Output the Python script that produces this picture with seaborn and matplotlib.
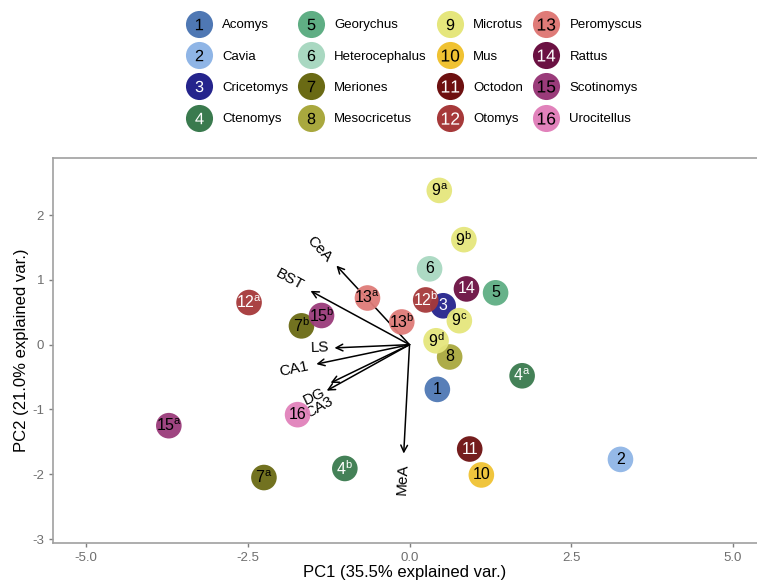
import numpy as np
import pandas as pd
import seaborn as sns
import matplotlib
matplotlib.use("Agg")
import matplotlib.pyplot as plt
from matplotlib.lines import Line2D
from matplotlib.legend_handler import HandlerTuple

# genus legend
genus_names = ["Acomys", "Cavia", "Cricetomys", "Ctenomys", "Georychus", "Heterocephalus",
               "Meriones", "Mesocricetus", "Microtus", "Mus", "Octodon", "Otomys",
               "Peromyscus", "Rattus", "Scotinomys", "Urocitellus"]
genus_colors = ["#4f78b4", "#8fb5e6", "#25248c", "#3a7a4e", "#5fae84", "#a9d8c1",
                "#6a6a14", "#a9a83e", "#e5e67c", "#f0c232", "#6d1010", "#a6393a",
                "#df7b78", "#6b1142", "#9a3b7a", "#e182bb"]
genus_textcol = ["black", "black", "white", "white", "black", "black", "black", "black",
                 "black", "black", "white", "white", "black", "white", "black", "black"]

# PCA scores (one per sample)
pt_genus = [1, 2, 3, 4, 4, 5, 6, 7, 7, 8, 9, 9, 9, 9, 10, 11, 12, 12, 13, 13, 14, 15, 15, 16]
pt_sup = ["", "", "", "a", "b", "", "", "a", "b", "", "a", "b", "c", "d", "", "", "a", "b",
          "a", "b", "", "a", "b", ""]
pc1 = [0.43, 3.26, 0.52, 1.74, -1.00, 1.33, 0.31, -2.25, -1.67, 0.62, 0.46, 0.84, 0.77, 0.41,
       1.11, 0.93, -2.48, 0.25, -0.65, -0.12, 0.88, -3.72, -1.36, -1.73]
pc2 = [-0.69, -1.77, 0.60, -0.48, -1.91, 0.80, 1.17, -2.05, 0.29, -0.19, 2.38, 1.62, 0.37, 0.06,
       -2.01, -1.61, 0.65, 0.69, 0.72, 0.35, 0.86, -1.25, 0.45, -1.08]

# loadings (arrows)
var_names = ["CeA", "BST", "LS", "CA1", "DG", "CA3", "MeA"]
load_x = [-1.13, -1.53, -1.16, -1.44, -1.22, -1.28, -0.09]
load_y = [1.22, 0.83, -0.05, -0.30, -0.59, -0.71, -1.68]
lab_x = [-1.40, -1.85, -1.39, -1.79, -1.48, -1.40, -0.11]
lab_y = [1.47, 1.00, -0.05, -0.37, -0.80, -0.97, -2.08]

plt.rcParams["font.family"] = ["Liberation Sans", "DejaVu Sans"]
plt.rcParams["mathtext.fontset"] = "custom"
plt.rcParams["mathtext.rm"] = "Liberation Sans"
plt.rcParams["mathtext.it"] = "Liberation Sans:italic"
plt.rcParams["mathtext.bf"] = "Liberation Sans:bold"

df = pd.DataFrame({"genus": [genus_names[g - 1] for g in pt_genus], "PC1": pc1, "PC2": pc2})

fig = plt.figure(figsize=(7.57, 5.83), dpi=100)
ax = fig.add_axes([53 / 757, 1 - 543 / 583, 1 - 53 / 757, (543 - 158) / 583])

# arrows
for name, lx, ly, tx, ty in zip(var_names, load_x, load_y, lab_x, lab_y):
    ax.annotate("", xy=(lx, ly), xytext=(0, 0),
                arrowprops=dict(arrowstyle="->", color="black", lw=1.1,
                                shrinkA=0, shrinkB=0, mutation_scale=12))
    ang = np.degrees(np.arctan(ly / lx))
    ax.text(tx, ty, name, rotation=ang, ha="center", va="center", fontsize=11,
            rotation_mode="anchor", zorder=2)

sns.scatterplot(data=df, x="PC1", y="PC2", hue="genus", hue_order=genus_names,
                palette=genus_colors, s=340, edgecolor="none", alpha=0.95,
                legend=False, ax=ax, zorder=3)

for g, sup, x, y in zip(pt_genus, pt_sup, pc1, pc2):
    lab = str(g) if sup == "" else "%d$^{\\mathrm{%s}}$" % (g, sup)
    ax.text(x, y, lab, ha="center", va="center", fontsize=11.5,
            color=genus_textcol[g - 1], zorder=4)

ax.set_xlim(-5.51, 5.37)
ax.set_ylim(-3.06, 2.88)
ax.set_xticks([-5.0, -2.5, 0.0, 2.5, 5.0])
ax.set_xticklabels(["-5.0", "-2.5", "0.0", "2.5", "5.0"])
ax.set_yticks([-3, -2, -1, 0, 1, 2])
ax.set_yticklabels(["-3", "-2", "-1", "0", "1", "2"])
ax.tick_params(colors="#7f7f7f", labelcolor="#6e6e6e", labelsize=9.5, length=3, width=1)
for side in ["left", "bottom", "top"]:
    ax.spines[side].set_color("#a0a0a0")
    ax.spines[side].set_linewidth(1.2)
ax.spines["right"].set_visible(False)
ax.set_xlabel("PC1 (35.5% explained var.)", fontsize=12, labelpad=1)
ax.set_ylabel("PC2 (21.0% explained var.)", fontsize=12, labelpad=2)

# legend with numbered circles
handles = []
for i, c in enumerate(genus_colors):
    circ = Line2D([], [], marker="o", ls="", markersize=19.5, markerfacecolor=c,
                  markeredgecolor="none")
    num = str(i + 1)
    txt = Line2D([], [], marker="$%s$" % num, ls="", markersize=8.2 if len(num) == 1 else 12.5,
                 color=genus_textcol[i], markeredgewidth=0)
    handles.append((circ, txt))
fig.legend(handles, genus_names, handler_map={tuple: HandlerTuple(ndivide=1, pad=0)},
           ncol=4, loc="upper center", bbox_to_anchor=(0.549, 0.99), frameon=False,
           fontsize=9.5, handlelength=1.5, handletextpad=1.0, columnspacing=1.0,
           labelspacing=1.45, borderaxespad=0.6)

fig.savefig("out.png", dpi=100)
